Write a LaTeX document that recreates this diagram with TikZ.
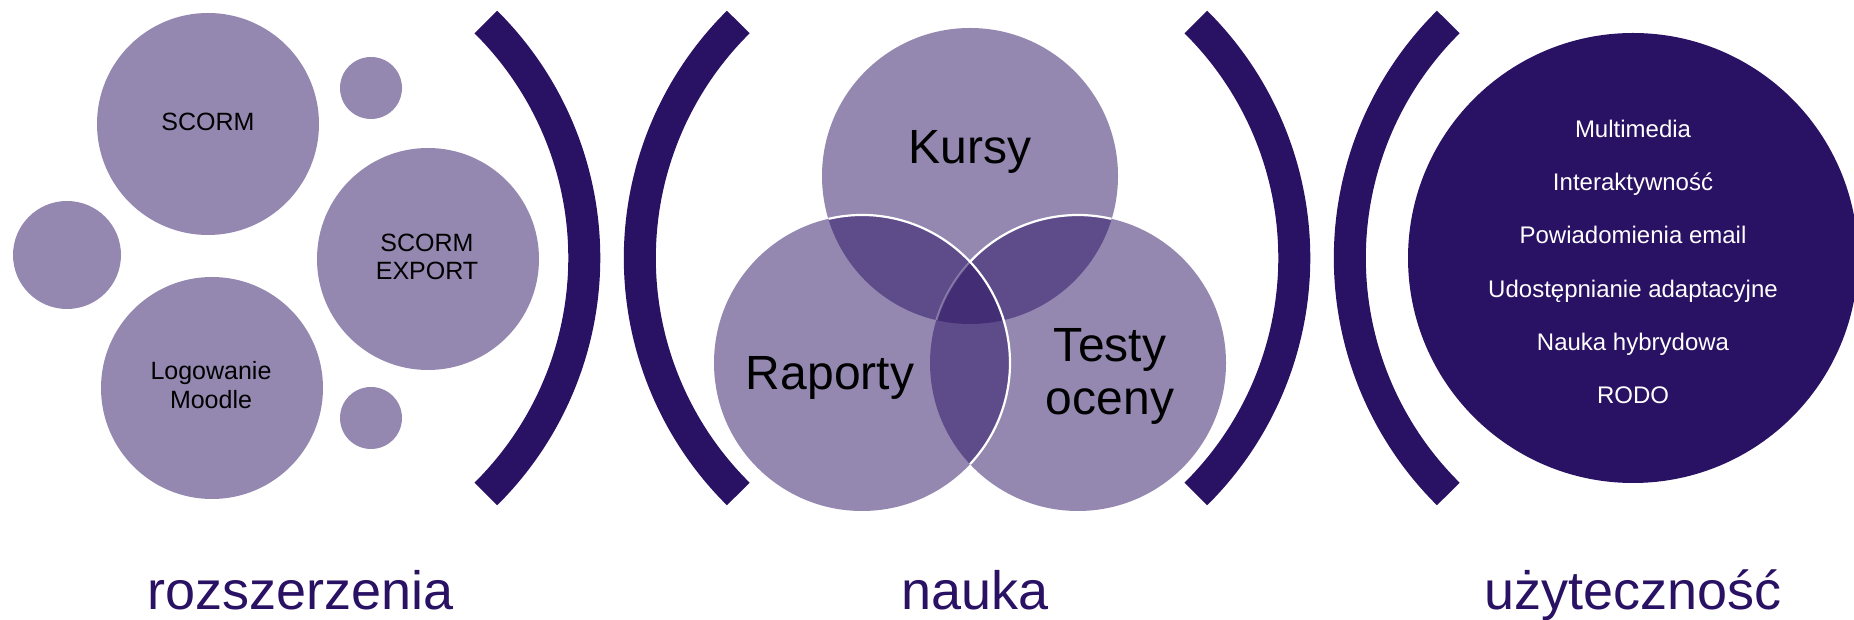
\documentclass[tikz,border=0pt]{standalone}
\usepackage{fontspec}
\setmainfont{Liberation Sans}
\definecolor{dk}{HTML}{291163}
\colorlet{lt}{dk!50!white}
\begin{document}
\begin{tikzpicture}[x=1pt,y=1pt,
  every node/.style={inner sep=0pt, outer sep=0pt},
  bubble/.style={circle, fill=lt, draw=none},
  bracket/.style={draw=dk, line width=32pt},
  vfill/.style={fill=dk, fill opacity=0.5},
  vline/.style={draw=white, line width=2.2pt},
  ctext/.style={anchor=base, text=black, font=\fontsize{25}{30}\selectfont},
  vtext/.style={anchor=base, text=black, font=\fontsize{48}{56}\selectfont},
  wtext/.style={anchor=base, text=white, font=\fontsize{24}{28}\selectfont},
  ltext/.style={anchor=base, text=dk, font=\fontsize{54}{62}\selectfont}]
\useasboundingbox (0,0) rectangle (1854,620);
\clip (0,0) rectangle (1854,620);

% left cluster
\node[bubble, minimum size=222pt] (scorm)  at (208,496) {};
\node[bubble, minimum size=62pt]  (dotA)   at (371,532) {};
\node[bubble, minimum size=108pt] (dotB)   at (67,365) {};
\node[bubble, minimum size=222pt] (export) at (428,361) {};
\node[bubble, minimum size=222pt] (moodle) at (212,232) {};
\node[bubble, minimum size=62pt]  (dotC)   at (371,202) {};
\node[ctext] (t1) at (208,489) {SCORM};
\node[ctext] (t2) at (427,368) {SCORM};
\node[ctext] (t3) at (427,340) {EXPORT};
\node[ctext] (t4) at (211,240) {Logowanie};
\node[ctext] (t5) at (211,211) {Moodle};

% brackets
\coordinate (c1) at (252.3,362);
\coordinate (c2) at (971.8,362);
\coordinate (c3) at (962.3,362);
\coordinate (c4) at (1681.8,362);
\draw[bracket] (c1) ++(-45.3:332) arc[start angle=-45.3, end angle=45.3, radius=332];
\draw[bracket] (c2) ++(134.7:332) arc[start angle=134.7, end angle=225.3, radius=332];
\draw[bracket] (c3) ++(-45.3:332) arc[start angle=-45.3, end angle=45.3, radius=332];
\draw[bracket] (c4) ++(134.7:332) arc[start angle=134.7, end angle=225.3, radius=332];

% Venn
\coordinate (K) at (970,444);
\coordinate (R) at (862,257);
\coordinate (T) at (1078,257);
\fill[vfill] (K) circle[radius=148];
\fill[vfill] (R) circle[radius=148];
\fill[vfill] (T) circle[radius=148];
\draw[vline] (R) ++(103.1:148) arc[start angle=103.1, end angle=-43.1, radius=148];
\draw[vline] (T) ++(76.9:148) arc[start angle=76.9, end angle=136.9, radius=148];
\draw[draw=white, draw opacity=0.3, line width=2pt] (T) ++(136.9:148) arc[start angle=136.9, end angle=163.1, radius=148];
\node[vtext] (kursy) at (970,456.7) {Kursy};
\node[vtext] (raporty) at (830,230) {Raporty};
\node[vtext] (testy) at (1110,258.3) {Testy};
\node[vtext] (oceny) at (1110,205) {oceny};

% right circle
\node[circle, fill=dk, draw=none, minimum size=450pt] (ux) at (1633,362) {};
\node[wtext] (u1) at (1633,482.7) {Multimedia};
\node[wtext] (u2) at (1633,429.4) {Interaktywność};
\node[wtext] (u3) at (1633,376.1) {Powiadomienia email};
\node[wtext] (u4) at (1633,322.8) {Udostępnianie adaptacyjne};
\node[wtext] (u5) at (1633,269.5) {Nauka hybrydowa};
\node[wtext] (u6) at (1633,216.2) {RODO};

% labels
\node[ltext] (l1) at (300.5,10.7) {rozszerzenia};
\node[ltext] (l2) at (975,10.7) {nauka};
\node[ltext] (l3) at (1633,10.7) {użyteczność};
\end{tikzpicture}
\end{document}
